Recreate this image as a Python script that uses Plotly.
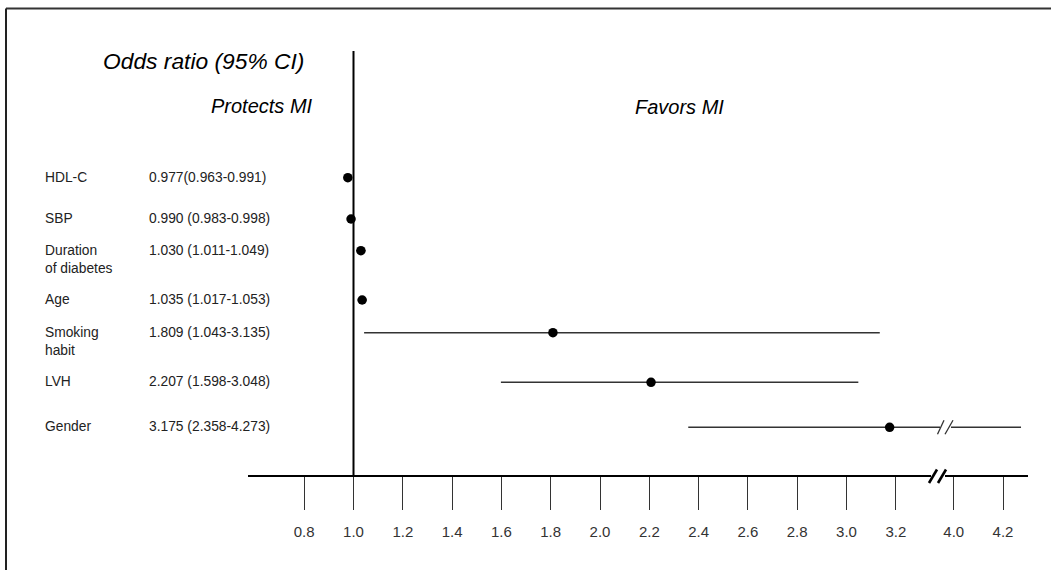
import plotly.graph_objects as go

# ---------------- data ----------------
factors = ["HDL-C", "SBP", "Duration<br>of diabetes", "Age", "Smoking<br>habit", "LVH", "Gender"]
or_est = [0.977, 0.990, 1.030, 1.035, 1.809, 2.207, 3.175]
ci_low = [0.963, 0.983, 1.011, 1.017, 1.043, 1.598, 2.358]
ci_high = [0.991, 0.998, 1.049, 1.053, 3.135, 3.048, 4.273]
or_text = ["0.977(0.963-0.991)", "0.990 (0.983-0.998)", "1.030 (1.011-1.049)",
           "1.035 (1.017-1.053)", "1.809 (1.043-3.135)", "2.207 (1.598-3.048)",
           "3.175 (2.358-4.273)"]
tick_values = [0.8, 1.0, 1.2, 1.4, 1.6, 1.8, 2.0, 2.2, 2.4, 2.6, 2.8, 3.0, 3.2, 4.0, 4.2]
tick_labels = ["0.8", "1.0", "1.2", "1.4", "1.6", "1.8", "2.0", "2.2", "2.4", "2.6",
               "2.8", "3.0", "3.2", "4.0", "4.2"]

# ---------------- layout constants ----------------
W, H = 1051, 570
ROW_Y = [177.7, 219, 250.7, 300, 332.7, 382.3, 427.3]   # vertical layout (pixel-like y units)
AXIS_Y = 476
BREAK_AT = 3.4       # values above this are drawn after the axis break
BREAK_SHIFT = 0.565  # amount of the scale removed by the break


def disp(v):
    """Map an odds ratio onto the broken x scale."""
    return v if v <= BREAK_AT else v - BREAK_SHIFT


FONT = "Liberation Sans, Arial, sans-serif"
INK = "#222222"

fig = go.Figure()

# confidence intervals
ci_x, ci_y = [], []
for lo, hi, ry in zip(ci_low, ci_high, ROW_Y):
    ci_x += [disp(lo), disp(hi), None]
    ci_y += [ry, ry, None]
fig.add_trace(go.Scatter(x=ci_x, y=ci_y, mode="lines",
                         line=dict(color="#333333", width=1.4),
                         hoverinfo="skip", showlegend=False))

# point estimates
fig.add_trace(go.Scatter(x=[disp(v) for v in or_est], y=ROW_Y, mode="markers",
                         marker=dict(color="black", size=9.5),
                         text=or_text, hovertemplate="%{text}<extra></extra>",
                         showlegend=False, cliponaxis=False))

shapes = []
# reference line at OR = 1
shapes.append(dict(type="line", xref="x", yref="y", x0=1.0, x1=1.0, y0=51, y1=AXIS_Y,
                   line=dict(color="black", width=2)))


def px(p):
    return p / W


# frame (top and left edges)
shapes.append(dict(type="line", xref="paper", yref="y", x0=px(6), x1=1.0, y0=8.5, y1=8.5,
                   line=dict(color="#333333", width=2)))
shapes.append(dict(type="line", xref="paper", yref="y", x0=px(6), x1=px(6), y0=8.5, y1=H,
                   line=dict(color="#222222", width=2)))

# axis break marks
shapes.append(dict(type="rect", xref="paper", yref="y", x0=px(931), x1=px(945), y0=473, y1=479,
                   fillcolor="white", line=dict(width=0), layer="above"))
for (a, b) in [(929, 937), (938, 946)]:
    shapes.append(dict(type="line", xref="paper", yref="y", x0=px(a), x1=px(b), y0=483, y1=469.5,
                       line=dict(color="black", width=2.6), layer="above"))
# break on Gender CI
gy = ROW_Y[6]
shapes.append(dict(type="rect", xref="paper", yref="y", x0=px(940), x1=px(951), y0=gy - 2, y1=gy + 2,
                   fillcolor="white", line=dict(width=0), layer="above"))
for (a, b) in [(937.5, 944), (945, 953)]:
    shapes.append(dict(type="line", xref="paper", yref="y", x0=px(a), x1=px(b), y0=gy + 7, y1=gy - 7,
                       line=dict(color="#333333", width=1.3), layer="above"))

annotations = []
# headings
annotations.append(dict(text="<i>Odds ratio (95% CI)</i>", xref="paper", yref="y", x=px(101), y=61,
                        xanchor="left", yanchor="middle", showarrow=False,
                        font=dict(family=FONT, size=22.8, color="black")))
annotations.append(dict(text="<i>Protects MI</i>", xref="paper", yref="y", x=px(209), y=106,
                        xanchor="left", yanchor="middle", showarrow=False,
                        font=dict(family=FONT, size=20, color="black")))
annotations.append(dict(text="<i>Favors MI</i>", xref="paper", yref="y", x=px(633), y=107,
                        xanchor="left", yanchor="middle", showarrow=False,
                        font=dict(family=FONT, size=20, color="black")))
# row labels and values
for name, txt, ry in zip(factors, or_text, ROW_Y):
    annotations.append(dict(text=name, xref="paper", yref="y", x=px(43), y=ry - 10,
                            xanchor="left", yanchor="top", align="left", showarrow=False,
                            font=dict(family=FONT, size=13.8, color=INK)))
    annotations.append(dict(text=txt, xref="paper", yref="y", x=px(147), y=ry - 10,
                            xanchor="left", yanchor="top", align="left", showarrow=False,
                            font=dict(family=FONT, size=13.8, color=INK)))

x_lo = 1 + (248 - 353.5) / 246.5
x_hi = 1 + (1028 - 353.5) / 246.5

fig.update_layout(
    width=W, height=H,
    margin=dict(l=0, r=0, t=0, b=0),
    paper_bgcolor="white", plot_bgcolor="white",
    shapes=shapes, annotations=annotations,
    xaxis=dict(domain=[248 / W, 1028 / W], range=[x_lo, x_hi],
               anchor="free", position=1 - AXIS_Y / H,
               showline=True, linecolor="black", linewidth=2,
               showgrid=False, zeroline=False,
               ticks="outside", ticklen=33, tickwidth=1, tickcolor="#333333",
               tickvals=[disp(v) for v in tick_values], ticktext=tick_labels,
               ticklabelstandoff=9,
               tickfont=dict(family=FONT, size=15, color="#333333")),
    yaxis=dict(range=[H, 0], domain=[0, 1], visible=False, showgrid=False, zeroline=False),
    hovermode="closest",
)

fig.write_html("out.html", config={"displayModeBar": False},
               post_script="document.body.style.margin='0';document.body.style.overflow='hidden';")
